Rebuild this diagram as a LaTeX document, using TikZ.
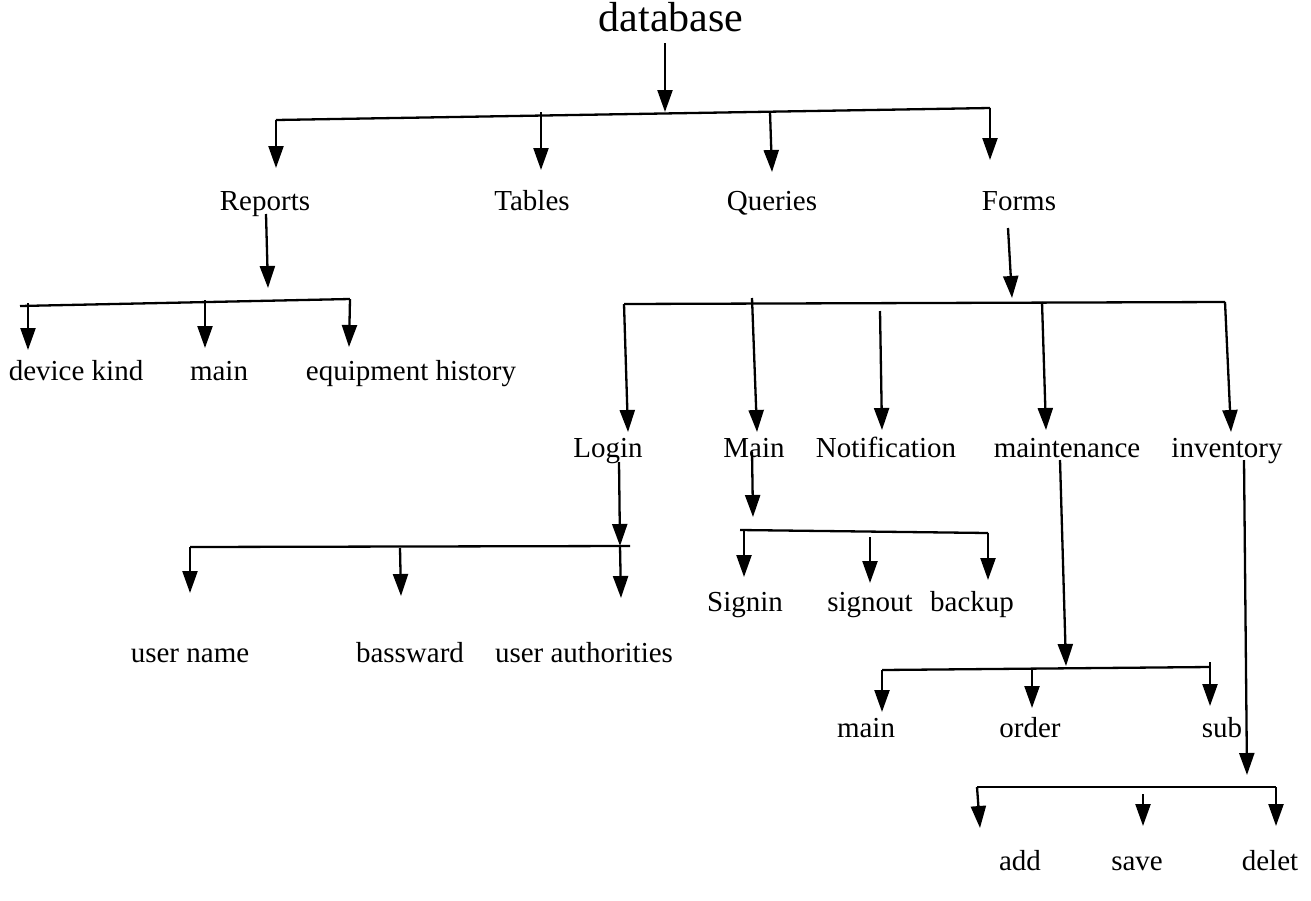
\documentclass[tikz,border=0pt]{standalone}
\usepackage{fontspec}
\setmainfont{Liberation Serif}
\usetikzlibrary{arrows.meta}

\tikzset{
  arr/.style={line width=2.3pt, -{Triangle[length=22pt,width=15pt]}},
  bar/.style={line width=2.3pt},
  lbl/.style={inner sep=0pt, anchor=base, font=\fontsize{29}{34}\selectfont},
  toplbl/.style={inner sep=0pt, anchor=base, font=\fontsize{42}{48}\selectfont}
}

\begin{document}
\begin{tikzpicture}[x=1pt,y=-1pt]
            \useasboundingbox (0,0) rectangle (1311,900);

            % labels
            \node[toplbl] (db) at (671,31) {database};
            \node[lbl] (reports) at (265,210) {Reports};
            \node[lbl] (tables) at (532,210) {Tables};
            \node[lbl] (queries) at (772,210) {Queries};
            \node[lbl] (forms) at (1019,210) {Forms};

            \node[lbl] (devkind) at (76,380) {device kind};
            \node[lbl] (rmain) at (219,380) {main};
            \node[lbl] (equip) at (411,380) {equipment history};

            \node[lbl] (login) at (608,457) {Login};
            \node[lbl] (fmain) at (754,457) {Main};
            \node[lbl] (notif) at (886,457) {Notification};
            \node[lbl] (maint) at (1067,457) {maintenance};
            \node[lbl] (inv) at (1227,457) {inventory};

            \node[lbl] (signin) at (745,611) {Signin};
            \node[lbl] (signout) at (870,611) {signout};
            \node[lbl] (backup) at (972,611) {backup};

            \node[lbl] (uname) at (190,662) {user name};
            \node[lbl] (pass) at (410,662) {bassward};
            \node[lbl] (uauth) at (584,662) {user authorities};

            \node[lbl] (mmain) at (866,737) {main};
            \node[lbl] (order) at (1030,737) {order};
            \node[lbl] (sub) at (1222,737) {sub};

            \node[lbl] (add) at (1020,870) {add};
            \node[lbl] (save) at (1137,870) {save};
            \node[lbl] (delet) at (1270,870) {delet};

            % database level
            \coordinate (db0) at (665,43);
            \coordinate (db1) at (665,112);
            \coordinate (b1l) at (276,120);
            \coordinate (b1r) at (990,108);
            \coordinate (t1a) at (276,168);
            \coordinate (t1b) at (541,112);
            \coordinate (t1c) at (541,170);
            \coordinate (t1d) at (770,112);
            \coordinate (t1e) at (772,172);
            \coordinate (t1f) at (990,160);

            \draw[arr] (db0) -- (db1);
            \draw[bar] (b1l) -- (b1r);
            \draw[arr] (b1l) -- (t1a);
            \draw[arr] (t1b) -- (t1c);
            \draw[arr] (t1d) -- (t1e);
            \draw[arr] (b1r) -- (t1f);

            % reports level
            \coordinate (r0) at (266,214);
            \coordinate (r1) at (268,288);
            \coordinate (b2l) at (20,306);
            \coordinate (b2r) at (350,299);
            \coordinate (s2a) at (28,303);
            \coordinate (t2a) at (28,350);
            \coordinate (s2b) at (205,300);
            \coordinate (t2b) at (205,348);
            \coordinate (t2c) at (349,347);

            \draw[arr] (r0) -- (r1);
            \draw[bar] (b2l) -- (b2r);
            \draw[arr] (s2a) -- (t2a);
            \draw[arr] (s2b) -- (t2b);
            \draw[arr] (b2r) -- (t2c);

            % forms level
            \coordinate (f0) at (1008,228);
            \coordinate (f1) at (1012,298);
            \coordinate (b3l) at (624,304);
            \coordinate (b3r) at (1225,302);
            \coordinate (t3a) at (628,432);
            \coordinate (s3b) at (752,298);
            \coordinate (t3b) at (757,432);
            \coordinate (s3c) at (880,311);
            \coordinate (t3c) at (882,430);
            \coordinate (s3d) at (1042,302);
            \coordinate (t3d) at (1046,430);
            \coordinate (t3e) at (1231,432);

            \draw[arr] (f0) -- (f1);
            \draw[bar] (b3l) -- (b3r);
            \draw[arr] (b3l) -- (t3a);
            \draw[arr] (s3b) -- (t3b);
            \draw[arr] (s3c) -- (t3c);
            \draw[arr] (s3d) -- (t3d);
            \draw[arr] (b3r) -- (t3e);

            % login level
            \coordinate (l0) at (619,462);
            \coordinate (l1) at (620,546);
            \coordinate (b4l) at (190,547);
            \coordinate (b4r) at (630,546);
            \coordinate (t4a) at (190,593);
            \coordinate (s4b) at (400,548);
            \coordinate (t4b) at (401,596);
            \coordinate (s4c) at (620,546);
            \coordinate (t4c) at (621,598);

            \draw[arr] (l0) -- (l1);
            \draw[bar] (b4l) -- (b4r);
            \draw[arr] (b4l) -- (t4a);
            \draw[arr] (s4b) -- (t4b);
            \draw[arr] (s4c) -- (t4c);

            % main level
            \coordinate (m0) at (752,452);
            \coordinate (m1) at (753,517);
            \coordinate (b5l) at (740,530);
            \coordinate (b5r) at (988,533);
            \coordinate (s5a) at (744,530);
            \coordinate (t5a) at (744,577);
            \coordinate (s5b) at (870,537);
            \coordinate (t5b) at (870,583);
            \coordinate (t5c) at (988,580);

            \draw[arr] (m0) -- (m1);
            \draw[bar] (b5l) -- (b5r);
            \draw[arr] (s5a) -- (t5a);
            \draw[arr] (s5b) -- (t5b);
            \draw[arr] (b5r) -- (t5c);

            % maintenance level
            \coordinate (n0) at (1060,460);
            \coordinate (n1) at (1066,666);
            \coordinate (b6l) at (882,670);
            \coordinate (b6r) at (1210,667);
            \coordinate (t6a) at (882,712);
            \coordinate (s6b) at (1032,669);
            \coordinate (t6b) at (1032,708);
            \coordinate (s6c) at (1210,662);
            \coordinate (t6c) at (1210,706);

            \draw[arr] (n0) -- (n1);
            \draw[bar] (b6l) -- (b6r);
            \draw[arr] (b6l) -- (t6a);
            \draw[arr] (s6b) -- (t6b);
            \draw[arr] (s6c) -- (t6c);

            % inventory level
            \coordinate (i0) at (1244,460);
            \coordinate (i1) at (1247,775);
            \coordinate (b7l) at (977,787);
            \coordinate (b7r) at (1276,787);
            \coordinate (t7a) at (980,828);
            \coordinate (s7b) at (1143,794);
            \coordinate (t7b) at (1143,826);
            \coordinate (t7c) at (1276,826);

            \draw[arr] (i0) -- (i1);
            \draw[bar] (b7l) -- (b7r);
            \draw[arr] (b7l) -- (t7a);
            \draw[arr] (s7b) -- (t7b);
            \draw[arr] (b7r) -- (t7c);
        \end{tikzpicture}
\end{document}
